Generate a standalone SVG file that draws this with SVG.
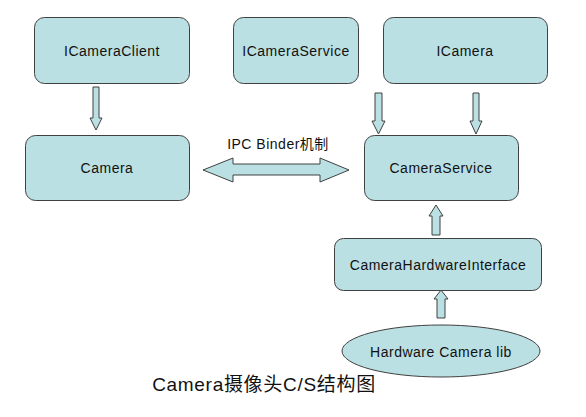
<svg xmlns="http://www.w3.org/2000/svg" width="586" height="417" viewBox="0 0 586 417">
<style>
.n{fill:#BBE0E3;stroke:#404040;stroke-width:1}
.a{fill:#BBE0E3;stroke:#404040;stroke-width:1;stroke-linejoin:miter}
.t{font-family:"Liberation Sans",Arial,sans-serif;font-size:14px;letter-spacing:0.5px;fill:#111;text-anchor:middle}
.c{font-family:"Liberation Sans","Noto Sans CJK SC",sans-serif;fill:#111;text-anchor:middle}
</style>
<rect width="586" height="417" fill="#fff"/>
<g id="ICameraClient"><rect class="n" x="34.5" y="17.5" width="155" height="66" rx="10"/><text class="t" x="112" y="56">ICameraClient</text></g>
<g id="ICameraService"><rect class="n" x="233.5" y="17.5" width="125" height="66" rx="10"/><text class="t" x="296" y="56">ICameraService</text></g>
<g id="ICamera"><rect class="n" x="383.5" y="17.5" width="164" height="66" rx="10"/><text class="t" x="465" y="56">ICamera</text></g>
<g id="Camera"><rect class="n" x="25.5" y="135.5" width="164" height="65" rx="10"/><text class="t" x="107" y="173">Camera</text></g>
<g id="CameraService"><rect class="n" x="364.5" y="135.5" width="154" height="65" rx="10"/><text class="t" x="441" y="173">CameraService</text></g>
<g id="CameraHardwareInterface"><rect class="n" x="334.5" y="238.5" width="207" height="52" rx="9"/><text class="t" x="438" y="270">CameraHardwareInterface</text></g>
<g id="HardwareCameraLib"><ellipse class="n" cx="441" cy="351" rx="99" ry="26"/><text class="t" x="441" y="357">Hardware Camera lib</text></g>
<g id="connectors">
<polygon class="a" points="93,87 99,87 99,118 102,118 96,130 90,118 93,118"/>
<polygon class="a" points="375,93 382,93 382,121 385,121 378.5,134 372,121 375,121"/>
<polygon class="a" points="473,93 479,93 479,121 482,121 476,134 470,121 473,121"/>
<polygon class="a" points="432,235 440,235 440,216 443,216 436,205 429,216 432,216"/>
<polygon class="a" points="437,318 445,318 445,299 448,299 441,290 434,299 437,299"/>
<polygon class="a" points="203,170 233,158 233,164 320,164 320,158 349,170 320,182 320,175 233,175 233,182"/>
<text class="c" x="278" y="149" font-size="14" letter-spacing="0.5">IPC Binder机制</text>
</g>
<text class="c" x="264" y="391" font-size="19" letter-spacing="0.7">Camera摄像头C/S结构图</text>
</svg>
